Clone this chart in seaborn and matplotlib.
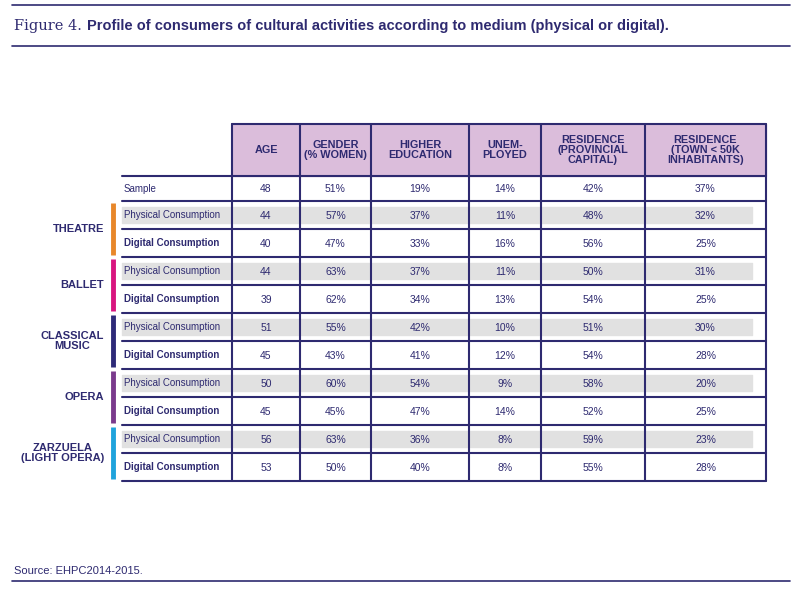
import matplotlib
matplotlib.use("Agg")
import matplotlib.pyplot as plt
import seaborn as sns

sns.set_theme(style="white")
plt.rcParams['font.family'] = ['Liberation Sans', 'DejaVu Sans']

headers = ["AGE", "GENDER\n(% WOMEN)", "HIGHER\nEDUCATION", "UNEM-\nPLOYED",
           "RESIDENCE\n(PROVINCIAL\nCAPITAL)", "RESIDENCE\n(TOWN < 50K\nINHABITANTS)"]
groups = ["THEATRE", "BALLET", "CLASSICAL\nMUSIC", "OPERA", "ZARZUELA\n(LIGHT OPERA)"]
group_colors = ["#e8872a", "#d8157f", "#2e2a78", "#7a3a8c", "#1fa3dc"]
row_labels = ["Sample"] + ["Physical Consumption", "Digital Consumption"] * 5
values = [
    ["48", "51%", "19%", "14%", "42%", "37%"],
    ["44", "57%", "37%", "11%", "48%", "32%"],
    ["40", "47%", "33%", "16%", "56%", "25%"],
    ["44", "63%", "37%", "11%", "50%", "31%"],
    ["39", "62%", "34%", "13%", "54%", "25%"],
    ["51", "55%", "42%", "10%", "51%", "30%"],
    ["45", "43%", "41%", "12%", "54%", "28%"],
    ["50", "60%", "54%", "9%", "58%", "20%"],
    ["45", "45%", "47%", "14%", "52%", "25%"],
    ["56", "63%", "36%", "8%", "59%", "23%"],
    ["53", "50%", "40%", "8%", "55%", "28%"],
]

navy = "#2e2a70"
fig = plt.figure(figsize=(8, 5.91), dpi=100)
ax = fig.add_axes([0, 0, 1, 1])
ax.set_xlim(0, 800)
ax.set_ylim(591, 0)
ax.axis("off")

# title and rules
ax.plot([12, 790], [5, 5], color=navy, lw=1.2)
ax.plot([12, 790], [46, 46], color=navy, lw=1.2)
ax.plot([12, 790], [581, 581], color=navy, lw=1.2)
ax.text(14, 26, "Figure 4.", family="DejaVu Serif", fontsize=10.5, color=navy, va="center")
ax.text(87, 26, "Profile of consumers of cultural activities according to medium (physical or digital).",
        fontsize=10.5, fontweight="bold", color=navy, va="center")
ax.text(14, 571, "Source: EHPC2014-2015.", fontsize=8, color=navy, va="center")

xs = [232, 300, 371, 469, 541, 645, 766]
ytop, yhead = 124, 176
ys = [yhead, 201] + [201 + 28 * (i + 1) for i in range(10)]

# header
ax.fill_between([xs[0], xs[-1]], ytop, yhead, color="#dbbddb", zorder=0)
for j, h in enumerate(headers):
    ax.text((xs[j] + xs[j + 1]) / 2, (ytop + yhead) / 2, h, ha="center", va="center",
            fontsize=7.8, fontweight="bold", color=navy, linespacing=1.05)

# gray bands for physical rows
for i in range(1, 11, 2):
    yc = (ys[i] + ys[i + 1]) / 2
    ax.fill_between([122, 752], yc - 8, yc + 8, color="#e1e1e1", zorder=0)

# rows
for i, (lab, row) in enumerate(zip(row_labels, values)):
    yc = (ys[i] + ys[i + 1]) / 2
    bold = "bold" if lab.startswith("Digital") else "normal"
    ax.text(124, yc, lab, fontsize=7, color=navy, va="center", fontweight=bold)
    for j, v in enumerate(row):
        ax.text((xs[j] + xs[j + 1]) / 2, yc + 1, v, fontsize=7.5, color=navy,
                ha="center", va="center")

# grid lines
for x in xs:
    ax.plot([x, x], [ytop, ys[-1]], color=navy, lw=1.5)
ax.plot([xs[0], xs[-1]], [ytop, ytop], color=navy, lw=1.5)
for k, y in enumerate(ys):
    ax.plot([122, xs[-1]], [y, y], color=navy, lw=1.5)

# group labels
for g, (name, col) in enumerate(zip(groups, group_colors)):
    y0, y1 = ys[1 + 2 * g], ys[3 + 2 * g]
    ax.plot([113, 113], [y0 + 2, y1 - 2], color=col, lw=3.5, solid_capstyle="butt")
    ax.text(104, (y0 + y1) / 2, name, ha="right", va="center", fontsize=8,
            fontweight="bold", color=navy, multialignment="center", linespacing=1.1)

fig.savefig("out.png", dpi=100)
